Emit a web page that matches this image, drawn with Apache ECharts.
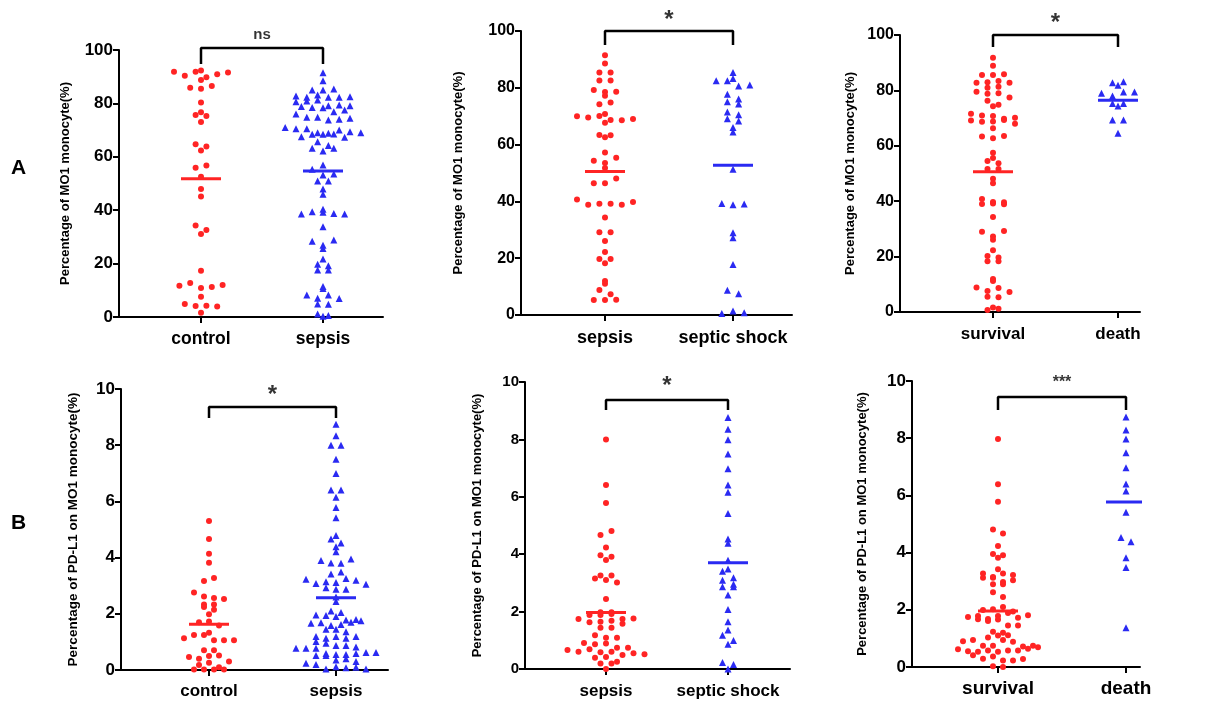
<!DOCTYPE html>
<html>
<head>
<meta charset="utf-8">
<script src="https://cdn.jsdelivr.net/npm/echarts@6/dist/echarts.min.js"></script>
<style>
  html, body { margin: 0; padding: 0; background: #fff; }
  #chart { width: 1211px; height: 704px; }
</style>
</head>
<body>
<div id="chart"></div>
<script>
// ---------- data: percentage of MO1 monocytes ----------
const a1Categories = ['control', 'sepsis'];
const a1Control = [91.9, 90.4, 91.9, 89.8, 90.9, 88.8, 92.3, 91.6, 85.9, 85.5, 86.5, 80.3, 76.7, 75.7, 75.3, 73.0,
  64.7, 62.4, 63.9, 55.9, 56.7, 52.5, 47.9, 45.1, 34.3, 32.6, 31.1, 17.3, 11.7, 12.7, 10.9, 11.2, 12.0, 7.6,
  4.9, 4.1, 4.2, 3.9, 1.6];
const a1Sepsis = [91.5, 88.5, 85.0, 85.0, 85.4, 82.8, 82.3, 83.1, 82.3, 82.3, 82.5, 80.6, 80.9, 81.3,
  79.1, 78.8, 78.5, 78.4, 79.4, 79.1, 76.9, 77.5, 76.0, 74.8, 74.8, 73.8, 74.1, 74.4, 71.0, 70.5, 70.5,
  69.0, 68.8, 70.0, 67.5, 68.4, 68.4, 68.5, 69.4, 69.0, 67.3, 65.6, 63.2, 62.2, 64.2, 63.2,
  56.9, 55.3, 53.2, 53.6, 50.9, 50.9, 47.9, 46.0, 38.6, 40.4, 39.4, 39.2, 38.8, 38.6, 33.8,
  28.4, 26.9, 28.8, 25.7, 21.7, 19.8, 17.6, 17.6, 19.2, 10.7, 11.4, 8.2, 7.0, 8.2, 6.9, 4.9, 4.8, 0.3, 1.1, 0.6];
const a1Means = [51.8, 54.7];
const a1Sig = 'ns';

const a2Categories = ['sepsis', 'septic shock'];
const a2Sepsis = [91.5, 88.6, 85.4, 85.4, 82.6, 82.6, 79.2, 78.5, 77.2, 78.6, 74.2, 74.8, 70.0, 69.5, 70.1, 67.7,
  70.8, 68.7, 68.6, 69.0, 63.4, 62.6, 63.3, 57.2, 54.3, 53.5, 55.4, 51.8, 46.4, 46.4, 48.1, 40.7, 38.8, 39.2,
  39.2, 38.8, 39.8, 34.3, 29.1, 29.1, 26.1, 22.2, 18.2, 19.7, 19.7, 11.0, 12.0, 8.8, 7.3, 5.3, 5.3, 5.4];
const a2Shock = [85.4, 83.3, 82.5, 82.5, 80.6, 81.0, 77.7, 76.1, 75.1, 74.3, 71.5, 70.5, 69.1, 68.3, 66.0, 64.4,
  51.3, 39.3, 38.8, 39.1, 27.2, 29.0, 17.8, 8.7, 7.5, 0.5, 1.4, 0.8];
const a2Means = [50.5, 52.7];
const a2Sig = '*';

const a3Categories = ['survival', 'death'];
const a3Survival = [91.8, 88.9, 85.6, 85.6, 85.8, 82.8, 82.9, 83.4, 82.8, 81.0, 81.3, 79.5, 78.8, 79.0, 77.4, 76.3,
  74.8, 74.3, 71.6, 70.9, 70.8, 69.8, 70.1, 69.1, 68.7, 68.8, 69.3, 68.0, 66.3, 63.4, 62.7, 63.5, 57.5, 55.6,
  54.5, 53.7, 51.6, 51.6, 48.1, 46.5, 39.0, 40.8, 39.7, 39.6, 39.2, 38.9, 34.3, 29.0, 27.3, 29.2, 26.1,
  22.3, 20.2, 18.3, 18.3, 19.7, 11.2, 11.9, 8.8, 7.6, 8.7, 7.2, 5.5, 5.3, 0.7, 1.6, 1.2];
const a3Death = [82.8, 81.9, 83.1, 79.0, 78.0, 79.4, 79.4, 75.3, 74.4, 75.3, 69.3, 69.3, 64.5];
const a3Means = [50.6, 76.4];
const a3Sig = '*';

// ---------- data: percentage of PD-L1 on MO1 monocytes ----------
const b1Categories = ['control', 'sepsis'];
const b1Control = [5.30, 4.66, 4.14, 3.82, 3.17, 3.27, 2.76, 2.62, 2.56, 2.53, 2.33, 2.33, 2.24, 2.14, 1.98, 1.70,
  1.73, 1.58, 1.33, 1.13, 1.25, 1.25, 1.06, 1.06, 1.06, 0.70, 0.70, 0.46, 0.40, 0.50, 0.52, 0.30, 0.18, 0.26,
  0.02, 0.02, 0.10, 0.02, 0.02];
const b1Sepsis = [8.75, 8.34, 8.0, 8.0, 7.50, 6.99, 6.41, 6.41, 6.15, 5.78, 5.42, 4.79, 4.66, 4.52, 4.39, 4.21,
  3.90, 3.81, 3.80, 3.95, 3.42, 3.49, 3.23, 3.08, 2.93, 3.14, 3.11, 3.26, 3.19, 2.87, 2.87, 3.05, 2.60, 2.44,
  2.10, 1.96, 1.94, 2.05, 1.90, 1.78, 1.80, 1.66, 1.68, 1.58, 1.62, 1.70, 1.75, 1.45, 1.45, 1.36, 1.19, 1.13,
  1.01, 1.19, 1.13, 1.19, 0.95, 0.87, 0.77, 0.77, 0.77, 0.87, 0.82, 0.59, 0.52, 0.52, 0.55, 0.55, 0.59, 0.62,
  0.62, 0.36, 0.40, 0.24, 0.20, 0.30, 0.04, 0.12, 0.08, 0.10, 0.04];
const b1Means = [1.63, 2.57];
const b1Sig = '*';

const b2Categories = ['sepsis', 'septic shock'];
const b2Sepsis = [8.0, 6.41, 5.78, 4.67, 4.81, 4.23, 3.96, 3.91, 3.80, 3.15, 3.10, 3.26, 3.01, 3.26, 2.44,
  1.98, 1.98, 1.74, 1.88, 1.88, 1.92, 1.74, 1.76, 1.63, 1.65, 1.68, 1.58, 1.44, 1.44, 1.18, 1.09, 1.09,
  0.91, 0.86, 0.89, 0.74, 0.66, 0.74, 0.60, 0.39, 0.69, 0.58, 0.60, 0.49, 0.55, 0.51, 0.42, 0.25, 0.19, 0.19, 0.0];
const b2Shock = [8.76, 8.35, 7.99, 7.49, 6.98, 6.41, 6.16, 5.42, 4.38, 4.53, 3.79, 3.41, 3.48, 3.18, 3.09, 2.87,
  2.95, 2.87, 2.58, 2.07, 1.65, 1.36, 1.18, 0.99, 0.86, 0.23, 0.16, 0.0];
const b2Means = [1.97, 3.70];
const b2Sig = '*';

const b3Categories = ['survival', 'death'];
const b3Survival = [7.97, 6.39, 5.78, 4.81, 4.67, 4.23, 3.95, 3.91, 3.82, 3.42, 3.27, 3.12, 3.15, 3.12, 3.27, 3.22,
  2.97, 2.89, 2.89, 3.03, 2.61, 2.45, 1.99, 2.02, 2.10, 1.75, 1.67, 1.61, 1.78, 1.94, 1.68, 1.78, 1.89, 1.66,
  1.72, 1.81, 1.45, 1.45, 1.23, 1.03, 1.10, 1.20, 1.11, 0.90, 0.94, 0.74, 0.74, 0.94, 0.88, 0.72, 0.74,
  0.62, 0.55, 0.53, 0.58, 0.53, 0.58, 0.58, 0.64, 0.69, 0.41, 0.29, 0.37, 0.23, 0.23, 0.28, 0.03, 0.0];
const b3Death = [8.74, 8.29, 7.97, 7.49, 6.97, 6.40, 6.15, 5.41, 4.53, 4.38, 3.82, 3.48, 1.37];
const b3Means = [1.96, 5.77];
const b3Sig = '***';

const titleMO1 = 'Percentage of MO1 monocyte(%)';
const titlePDL1 = 'Percentage of PD-L1 on MO1 monocyte(%)';

// ---------- layout (pixels) ----------
const FONT = '"Liberation Sans", Arial, sans-serif';
const RED = '#ff2424';
const BLUE = '#2a2af2';
const panels = [
  { cats: a1Categories, groups: [a1Control, a1Sepsis], means: a1Means, sig: a1Sig, title: titleMO1,
    axisX: 119, top: 50, base: 317, right: 383, c1: 201, c2: 323, yMax: 100, yStep: 20,
    titleX: 65, tick: 17, xl: 17.5, xm: 13, tf: 13, brTop: 48, brLeg: 64, sigY: 35, sigSize: 15, dx: 10.8 },
  { cats: a2Categories, groups: [a2Sepsis, a2Shock], means: a2Means, sig: a2Sig, title: titleMO1,
    axisX: 521, top: 31, base: 315, right: 792, c1: 605, c2: 733, yMax: 100, yStep: 20,
    titleX: 458, tick: 16, xl: 18, xm: 14, tf: 13, brTop: 31, brLeg: 45, sigY: 15, sigSize: 24, dx: 11.2 },
  { cats: a3Categories, groups: [a3Survival, a3Death], means: a3Means, sig: a3Sig, title: titleMO1,
    axisX: 900, top: 35, base: 312, right: 1140, c1: 993, c2: 1118, yMax: 100, yStep: 20,
    titleX: 850, tick: 16, xl: 17, xm: 13.5, tf: 13, brTop: 35, brLeg: 47, sigY: 18, sigSize: 24, dx: 11.0 },
  { cats: b1Categories, groups: [b1Control, b1Sepsis], means: b1Means, sig: b1Sig, title: titlePDL1,
    axisX: 121, top: 389, base: 670, right: 388, c1: 209, c2: 336, yMax: 10, yStep: 2,
    titleX: 73, tick: 17, xl: 17, xm: 13, tf: 13.5, brTop: 407, brLeg: 418, sigY: 390, sigSize: 24, dx: 10.0 },
  { cats: b2Categories, groups: [b2Sepsis, b2Shock], means: b2Means, sig: b2Sig, title: titlePDL1,
    axisX: 525, top: 382, base: 669, right: 790, c1: 606, c2: 728, yMax: 10, yStep: 2,
    titleX: 477, tick: 15, xl: 17, xm: 14, tf: 13, brTop: 400, brLeg: 410, sigY: 381, sigSize: 24, dx: 11.0 },
  { cats: b3Categories, groups: [b3Survival, b3Death], means: b3Means, sig: b3Sig, title: titlePDL1,
    axisX: 912, top: 381, base: 667, right: 1140, c1: 998, c2: 1126, yMax: 10, yStep: 2,
    titleX: 862, tick: 17, xl: 19, xm: 12, tf: 13, brTop: 397, brLeg: 410, sigY: 383, sigSize: 16, dx: 10.0 }
];

// Column scatter layout: values are grouped into horizontal bins by their
// vertical pixel position and spread symmetrically around the group centre.
function swarm(values, center, p, binPx) {
  const pxPerY = (p.base - p.top) / p.yMax;
  const pxPerX = p.c2 - p.c1;
  const bins = new Map();
  values.forEach(v => {
    const b = Math.floor((p.yMax - v) * pxPerY / binPx);
    if (!bins.has(b)) bins.set(b, []);
    bins.get(b).push(v);
  });
  const out = [];
  bins.forEach(list => {
    const n = list.length;
    list.forEach((v, k) => out.push([center + (k - (n - 1) / 2) * p.dx / pxPerX, v]));
  });
  return out;
}

const grids = [], xAxes = [], yAxes = [], series = [];
panels.forEach((p, i) => {
  const pxPerX = p.c2 - p.c1;
  const pxPerY = (p.base - p.top) / p.yMax;
  const toVal = px => (p.base - px) / pxPerY;
  grids.push({ left: p.axisX, top: p.top, width: p.right - p.axisX, height: p.base - p.top });
  xAxes.push({
    type: 'value', gridIndex: i,
    min: 1 - (p.c1 - p.axisX) / pxPerX, max: 2 + (p.right - p.c2) / pxPerX,
    axisLine: { show: true, lineStyle: { color: '#000', width: 2 } },
    axisTick: { show: true, customValues: [1, 2], length: 6, lineStyle: { color: '#000', width: 2 } },
    axisLabel: { show: true, customValues: [1, 2], margin: p.xm, color: '#000', fontWeight: 'bold',
      fontSize: p.xl, fontFamily: FONT, formatter: v => p.cats[Math.round(v) - 1] || '' },
    splitLine: { show: false }
  });
  yAxes.push({
    type: 'value', gridIndex: i, min: 0, max: p.yMax, interval: p.yStep,
    axisLine: { show: true, lineStyle: { color: '#000', width: 2 } },
    axisTick: { show: true, length: 6, lineStyle: { color: '#000', width: 2 } },
    axisLabel: { margin: 6, color: '#000', fontWeight: 'bold', fontSize: p.tick, fontFamily: FONT },
    splitLine: { show: false },
    name: p.title, nameLocation: 'middle', nameGap: p.axisX - p.titleX - 7,
    nameTextStyle: { color: '#000', fontWeight: 'bold', fontSize: p.tf, fontFamily: FONT }
  });

  const colors = [RED, BLUE];
  const symbols = ['circle', 'triangle'];
  const sizes = [6, 7];
  p.groups.forEach((vals, g) => {
    series.push({
      type: 'scatter', xAxisIndex: i, yAxisIndex: i, clip: false, silent: true,
      symbol: symbols[g], symbolSize: sizes[g], itemStyle: { color: colors[g], opacity: 1 },
      data: swarm(vals, g + 1, p, 7)
    });
    const half = 20 / pxPerX;
    series.push({
      type: 'line', xAxisIndex: i, yAxisIndex: i, clip: false, silent: true, symbol: 'none',
      lineStyle: { color: colors[g], width: 3 },
      data: [[g + 1 - half, p.means[g]], [g + 1 + half, p.means[g]]]
    });
  });

  // significance bracket
  series.push({
    type: 'line', xAxisIndex: i, yAxisIndex: i, clip: false, silent: true, symbol: 'none',
    lineStyle: { color: '#000', width: 2.5 },
    data: [[1, toVal(p.brLeg)], [1, toVal(p.brTop)], [2, toVal(p.brTop)], [2, toVal(p.brLeg)]]
  });
  const starLift = p.sig === '*' ? p.sigSize * 0.22 : 0;
  series.push({
    type: 'scatter', xAxisIndex: i, yAxisIndex: i, clip: false, silent: true, symbolSize: 0,
    data: [[1.5, toVal(p.sigY + starLift)]],
    label: { show: true, position: 'inside', formatter: p.sig, color: '#000', fontWeight: 'bold',
      fontSize: p.sigSize, fontFamily: FONT }
  });
});

const chart = echarts.init(document.getElementById('chart'), null, { renderer: 'canvas' });
chart.setOption({
  animation: false,
  backgroundColor: '#fff',
  grid: grids, xAxis: xAxes, yAxis: yAxes, series: series,
  graphic: [
    { type: 'text', left: 11, top: 158, style: { text: 'A', font: 'bold 21px ' + FONT, fill: '#000' } },
    { type: 'text', left: 11, top: 513, style: { text: 'B', font: 'bold 21px ' + FONT, fill: '#000' } }
  ]
});
</script>
</body>
</html>
